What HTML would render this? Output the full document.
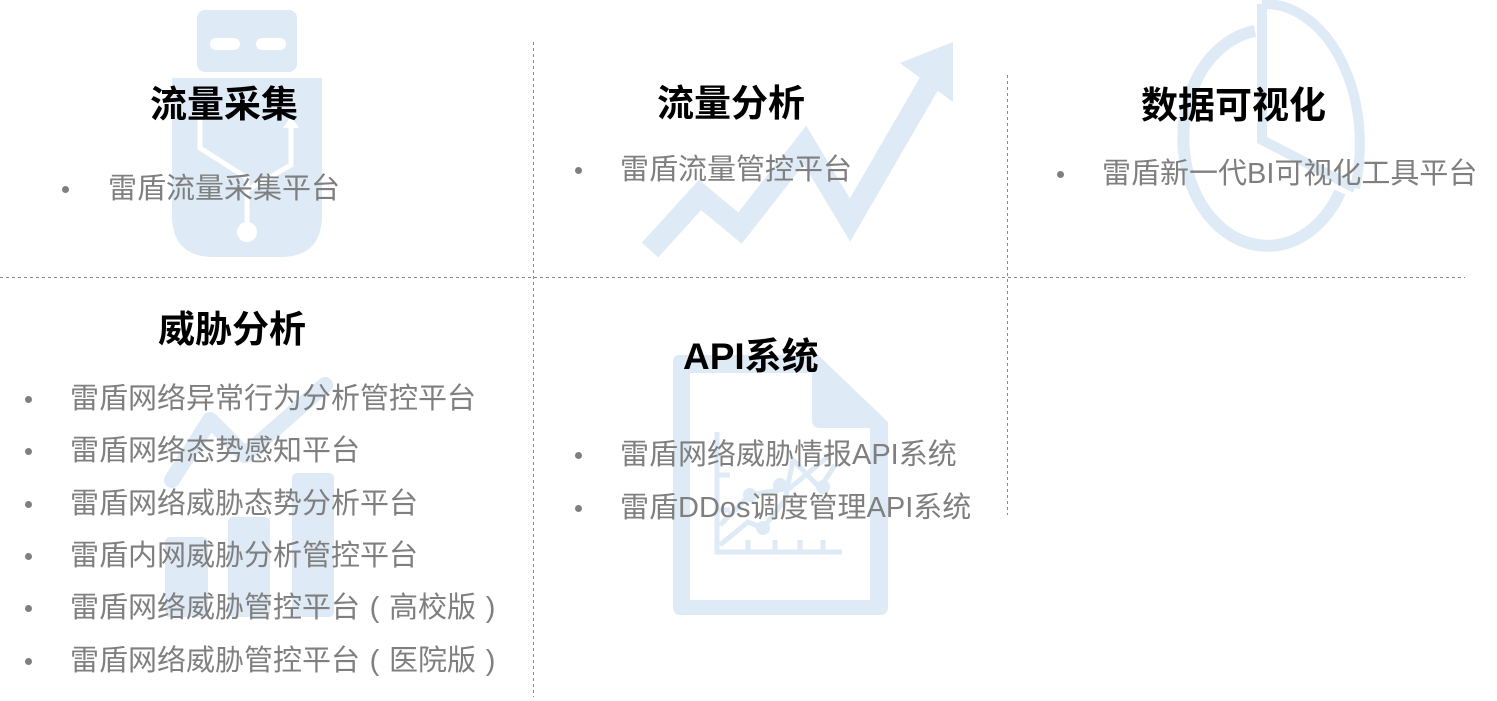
<!DOCTYPE html>
<html><head><meta charset="utf-8"><style>
body{margin:0;width:1497px;height:701px;background:#fff;position:relative;overflow:hidden;font-family:"Liberation Sans","Noto Sans CJK SC",sans-serif}
.t{position:absolute;font-size:37px;font-weight:bold;color:#000;line-height:40px;white-space:nowrap}
.i{position:absolute;font-size:29px;color:#7f7f7f;line-height:40px;white-space:nowrap}
.d{position:absolute;width:7px;height:7px;border-radius:50%;background:#7f7f7f}
</style></head><body>
<svg width="1497" height="701" style="position:absolute;left:0;top:0">
<g fill="#deeaf5" stroke="none">
<rect x="197" y="10" width="100" height="62" rx="8"/>
<path d="M172 78 H322 V215 Q322 257 280 257 H214 Q172 257 172 215 Z"/>
</g>
<g fill="#fff"><rect x="210" y="38" width="30" height="12" rx="6"/><rect x="256" y="38" width="30" height="12" rx="6"/></g>
<g stroke="#fff" stroke-width="5" fill="none"><path d="M200 115 V148 L247 178 V232"/><path d="M291 125 V165 L247 190"/></g>
<path d="M283 128 L291 116 L299 128 Z" fill="#fff"/><circle cx="247" cy="232" r="10" fill="#fff"/>
<polyline points="650,250 700,195 740,228 805,145 850,220 930,82" fill="none" stroke="#deeaf5" stroke-width="22" stroke-linejoin="miter"/>
<path d="M900 63 L953 42 L953 102 Z" fill="#deeaf5"/>
<path d="M1255 31 A84 108 0 1 0 1340 192" fill="none" stroke="#deeaf5" stroke-width="12"/>
<path d="M1262 4 V140 L1355 188" fill="none" stroke="#deeaf5" stroke-width="10"/>
<path d="M1262 4 A95 140 0 0 1 1355 188" fill="none" stroke="#deeaf5" stroke-width="10"/>
<g fill="#deeaf5"><rect x="165" y="537" width="43" height="80" rx="5"/><rect x="228" y="517" width="42" height="100" rx="5"/><rect x="292" y="473" width="42" height="144" rx="5"/></g>
<polyline points="172,480 210,420 245,455 325,385" fill="none" stroke="#deeaf5" stroke-width="16" stroke-linecap="round" stroke-linejoin="round"/>
<path d="M680 355 H818 L888 422 V607 Q888 615 880 615 H681 Q673 615 673 607 V362 Q673 355 680 355 Z" fill="#deeaf5"/>
<path d="M690 373 H812 V420 Q812 428 820 428 H870 V600 H690 Z" fill="#fff"/>
<g stroke="#deeaf5" stroke-width="5" fill="none"><path d="M717 432 V552 H842"/><path d="M748 552 V540 M775 552 V540 M800 552 V540 M823 552 V540 M717 475 H730 M717 510 H730"/>
<polyline points="720,545 748,522 763,528 785,500 793,460 820,488 835,465"/><polyline points="720,525 750,495 790,488 830,455"/></g>
<g fill="#deeaf5"><circle cx="750" cy="495" r="7"/><circle cx="763" cy="528" r="7"/><circle cx="780" cy="485" r="7"/><circle cx="823" cy="487" r="7"/></g>
<g stroke="#8a8a8a" stroke-width="1" stroke-dasharray="3,3"><line x1="0" y1="277.5" x2="1465" y2="277.5"/><line x1="533.5" y1="42" x2="533.5" y2="697"/><line x1="1007.5" y1="75" x2="1007.5" y2="515"/></g>
</svg>
<div class="t" style="left:150px;top:85px">流量采集</div>
<div class="t" style="left:657px;top:84px">流量分析</div>
<div class="t" style="left:1141px;top:86px">数据可视化</div>
<div class="t" style="left:158px;top:310px">威胁分析</div>
<div class="t" style="left:683px;top:337px">API系统</div>

<div class="d" style="left:62px;top:186px"></div><div class="i" style="left:108px;top:169px">雷盾流量采集平台</div>
<div class="d" style="left:575px;top:167px"></div><div class="i" style="left:620px;top:150px">雷盾流量管控平台</div>
<div class="d" style="left:1057px;top:171px"></div><div class="i" style="left:1102px;top:154px">雷盾新一代BI可视化工具平台</div>

<div class="d" style="left:25px;top:396px"></div><div class="i" style="left:70px;top:379px">雷盾网络异常行为分析管控平台</div>
<div class="d" style="left:25px;top:448px"></div><div class="i" style="left:70px;top:431px">雷盾网络态势感知平台</div>
<div class="d" style="left:25px;top:501px"></div><div class="i" style="left:70px;top:484px">雷盾网络威胁态势分析平台</div>
<div class="d" style="left:25px;top:553px"></div><div class="i" style="left:70px;top:536px">雷盾内网威胁分析管控平台</div>
<div class="d" style="left:25px;top:605px"></div><div class="i" style="left:70px;top:588px">雷盾网络威胁管控平台<span style="display:inline-block;width:29px;text-align:center">(</span>高校版<span style="display:inline-block;width:29px;text-align:center">)</span></div>
<div class="d" style="left:25px;top:658px"></div><div class="i" style="left:70px;top:641px">雷盾网络威胁管控平台<span style="display:inline-block;width:29px;text-align:center">(</span>医院版<span style="display:inline-block;width:29px;text-align:center">)</span></div>

<div class="d" style="left:575px;top:452px"></div><div class="i" style="left:620px;top:435px">雷盾网络威胁情报API系统</div>
<div class="d" style="left:575px;top:505px"></div><div class="i" style="left:620px;top:488px">雷盾DDos调度管理API系统</div>
</body></html>
